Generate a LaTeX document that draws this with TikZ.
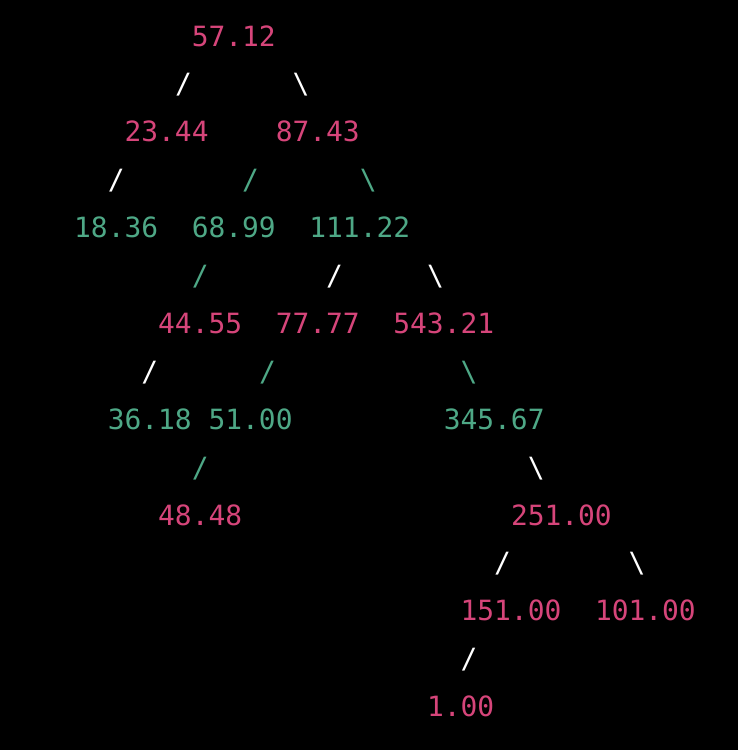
\documentclass[tikz,border=0pt]{standalone}
\usepackage{fontspec}
\newfontfamily\termfont{DejaVu Sans Mono}
\definecolor{numpink}{RGB}{214,69,122}
\definecolor{numgreen}{RGB}{78,168,134}
\begin{document}
\begin{tikzpicture}[x=16.8pt,y=-47.9pt,
  txt/.style={inner sep=0pt,anchor=base west,font=\termfont\fontsize{27.9pt}{30pt}\selectfont},
  pinknum/.style={txt,text=numpink},
  greennum/.style={txt,text=numgreen},
  wslash/.style={txt,text=white},
  gslash/.style={txt,text=numgreen}]
\fill[black] (0pt,0pt) rectangle (738pt,-750pt);
\useasboundingbox (0pt,0pt) rectangle (738pt,-750pt);
\begin{scope}[shift={(74pt,-46pt)}] % column, line
% line 0
\node[pinknum] (n5712) at (7,0) {57.12};
% line 1
\node[wslash] (s1a) at (6,1) {/};
\node[wslash] (s1b) at (13,1) {\textbackslash};
% line 2
\node[pinknum] (n2344) at (3,2) {23.44};
\node[pinknum] (n8743) at (12,2) {87.43};
% line 3
\node[wslash] (s3a) at (2,3) {/};
\node[gslash] (s3b) at (10,3) {/};
\node[gslash] (s3c) at (17,3) {\textbackslash};
% line 4
\node[greennum] (n1836) at (0,4) {18.36};
\node[greennum] (n6899) at (7,4) {68.99};
\node[greennum] (n11122) at (14,4) {111.22};
% line 5
\node[gslash] (s5a) at (7,5) {/};
\node[wslash] (s5b) at (15,5) {/};
\node[wslash] (s5c) at (21,5) {\textbackslash};
% line 6
\node[pinknum] (n4455) at (5,6) {44.55};
\node[pinknum] (n7777) at (12,6) {77.77};
\node[pinknum] (n54321) at (19,6) {543.21};
% line 7
\node[wslash] (s7a) at (4,7) {/};
\node[gslash] (s7b) at (11,7) {/};
\node[gslash] (s7c) at (23,7) {\textbackslash};
% line 8
\node[greennum] (n3618) at (2,8) {36.18};
\node[greennum] (n5100) at (8,8) {51.00};
\node[greennum] (n34567) at (22,8) {345.67};
% line 9
\node[gslash] (s9a) at (7,9) {/};
\node[wslash] (s9b) at (27,9) {\textbackslash};
% line 10
\node[pinknum] (n4848) at (5,10) {48.48};
\node[pinknum] (n25100) at (26,10) {251.00};
% line 11
\node[wslash] (s11a) at (25,11) {/};
\node[wslash] (s11b) at (33,11) {\textbackslash};
% line 12
\node[pinknum] (n15100) at (23,12) {151.00};
\node[pinknum] (n10100) at (31,12) {101.00};
% line 13
\node[wslash] (s13a) at (23,13) {/};
% line 14
\node[pinknum] (n100) at (21,14) {1.00};
\end{scope}
\end{tikzpicture}
\end{document}
